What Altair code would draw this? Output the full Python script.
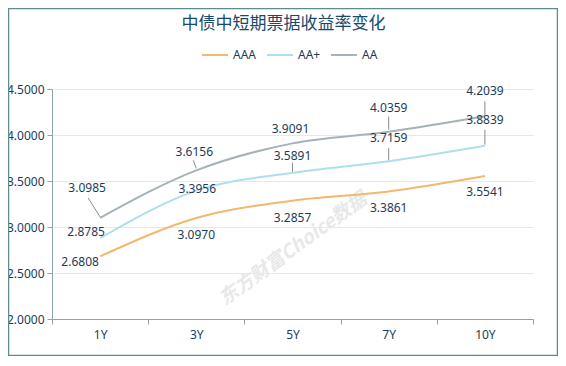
import altair as alt
import pandas as pd

# ---------------- data ----------------
categories = ["1Y", "3Y", "5Y", "7Y", "10Y"]
series_names = ["AAA", "AA+", "AA"]
aaa = [2.6808, 3.0970, 3.2857, 3.3861, 3.5541]
aa_plus = [2.8785, 3.3956, 3.5891, 3.7159, 3.8839]
aa = [3.0985, 3.6156, 3.9091, 4.0359, 4.2039]
y_ticks = [2.0, 2.5, 3.0, 3.5, 4.0, 4.5]
title_text = "中债中短期票据收益率变化"
watermark_text = "东方财富Choice数据"

# ---------------- style / layout ----------------
colors = ["#f2b870", "#acdff1", "#a5b3b9"]
text_color = "#1d3b58"
title_color = "#174a6c"
axis_color = "#8fa3ad"
font = "Noto Sans"
cjk_font = "Noto Sans CJK SC"
W, H = 481, 230
Y_MIN, Y_MAX = 2.0, 4.5
PX_PER_UNIT = H / (Y_MAX - Y_MIN)

# data-label offsets in pixels relative to their point
label_dx = {"AAA": [-20, 0, 0, 0, 0], "AA+": [-14, 1, 0, 0, 0], "AA": [-13, -2, -2, 0, 0]}
label_dy = {"AAA": [6, 17, 17, 17, 16], "AA+": [-6, -2, -17, -23, -26], "AA": [-30, -18, -14, -24, -25]}
# leader lines: (series, category index, top dx, top dy, bottom dy)
leaders = [
    ("AA", 0, -12, -20, -1),
    ("AA", 1, -3, -10, -2),
    ("AA+", 2, 0, -10, -1),
    ("AA", 3, 0, -15, -2),
    ("AA+", 3, 0, -13, -1),
    ("AA", 4, 0, -15, -1),
    ("AA+", 4, 0, -16, -1),
]

values = {"AAA": aaa, "AA+": aa_plus, "AA": aa}
rows = []
for s in series_names:
    for i, c in enumerate(categories):
        v = values[s][i]
        rows.append({
            "cat": c, "series": s, "value": v,
            "label": f"{v:.4f}",
            "label_y": v - label_dy[s][i] / PX_PER_UNIT,
            "dx": label_dx[s][i],
        })
df = pd.DataFrame(rows)

lrows = []
for s, i, tdx, tdy, bdy in leaders:
    v = values[s][i]
    lrows.append({"cat": categories[i], "top": v - tdy / PX_PER_UNIT,
                  "bottom": v - bdy / PX_PER_UNIT, "ldx": tdx})
ldf = pd.DataFrame(lrows)

x_enc = alt.X("cat:N", sort=categories, title=None,
              scale=alt.Scale(paddingInner=0, paddingOuter=0),
              axis=alt.Axis(tickBand="extent", labelAngle=0, domainColor=axis_color,
                            tickColor=axis_color, tickSize=5, labelPadding=5,
                            labelFontSize=12, labelColor=text_color, labelFont=font,
                            grid=False))
y_scale = alt.Scale(domain=[Y_MIN, Y_MAX], nice=False, zero=False)

lines = alt.Chart(df).mark_line(interpolate="monotone", strokeWidth=2).encode(
    x=x_enc,
    y=alt.Y("value:Q", scale=y_scale, title=None,
            axis=alt.Axis(values=y_ticks, format=".4f", domainColor=axis_color,
                          tickColor=axis_color, tickSize=5, labelPadding=3,
                          labelFontSize=12, labelColor=text_color, labelFont=font,
                          gridColor="#e8e8e8", grid=True)),
    color=alt.Color("series:N", sort=series_names,
                    scale=alt.Scale(domain=series_names, range=colors),
                    legend=alt.Legend(orient="none", legendX=149, legendY=-48,
                                      direction="horizontal", title=None,
                                      symbolType="stroke", symbolStrokeWidth=2,
                                      symbolSize=676, labelFontSize=12,
                                      labelColor=text_color, labelFont=font,
                                      labelOffset=4, columnPadding=6)),
    order=alt.Order("series:N"),
)

layers = [lines]

for d in sorted(df["dx"].unique()):
    layers.append(
        alt.Chart(df).transform_filter(alt.datum.dx == int(d)).mark_text(
            dx=int(d), fontSize=12, font=font, color=text_color, baseline="middle"
        ).encode(x=alt.X("cat:N", sort=categories), y=alt.Y("label_y:Q", scale=y_scale),
                 text="label:N")
    )

for d in sorted(ldf["ldx"].unique()):
    layers.append(
        alt.Chart(ldf).transform_filter(alt.datum.ldx == int(d)).mark_rule(
            color="#8a8a8a", strokeWidth=1, xOffset=int(d)
        ).encode(x=alt.X("cat:N", sort=categories), x2=alt.X2("cat:N"),
                 y=alt.Y("top:Q", scale=y_scale), y2="bottom:Q")
    )

watermark = alt.Chart(pd.DataFrame({"t": [watermark_text]})).mark_text(
    angle=324, fontSize=19, font=cjk_font, fontWeight="bold", fontStyle="italic",
    color="#e8e8e8"
).encode(x=alt.value(241), y=alt.value(160), text="t:N")

border = alt.Chart(pd.DataFrame({"a": [0]})).mark_rect(
    fill=None, stroke="#5f8a8f", strokeWidth=1.5
).encode(x=alt.value(-43.5), x2=alt.value(W + 24.5), y=alt.value(-80.5), y2=alt.value(H + 36.5))

chart = alt.layer(watermark, *layers, border).properties(
    width=W, height=H,
    title=alt.TitleParams(title_text, fontSize=17, font=cjk_font, color=title_color,
                          fontWeight="normal", anchor="middle", frame="group", dx=-9,
                          offset=-25),
    autosize=alt.AutoSizeParams(type="none"),
    padding={"left": 44, "top": 81, "right": 25, "bottom": 37},
).resolve_scale(x="shared", y="shared").configure_view(stroke=None)

chart.save("out.html", embed_options={"renderer": "svg", "actions": False})
